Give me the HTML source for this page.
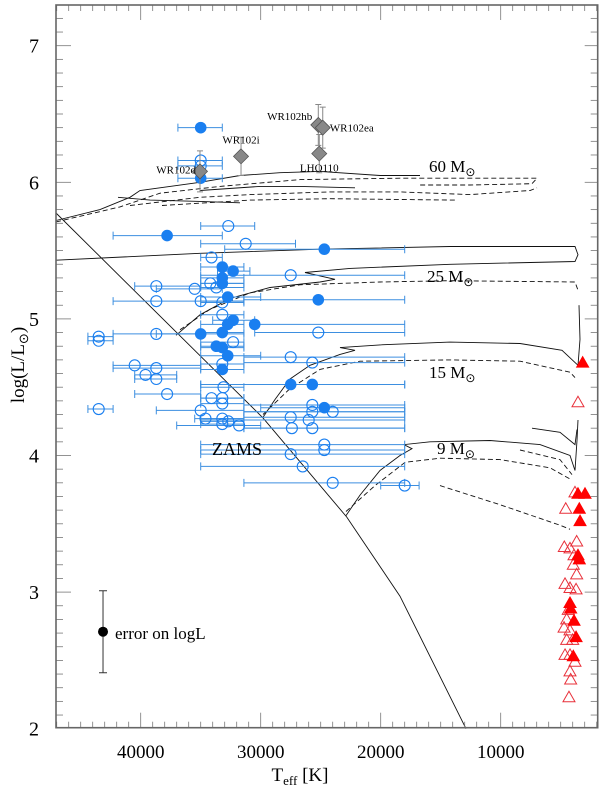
<!DOCTYPE html>
<html><head><meta charset="utf-8"><style>
html,body{margin:0;padding:0;background:#fff;}
body{position:relative;width:600px;height:788px;}
svg{display:block;font-family:"Liberation Serif",serif;}
text{font-family:"Liberation Serif",serif;}
</style></head><body>
<svg id="chart" width="600" height="788" viewBox="0 0 600 788" xmlns="http://www.w3.org/2000/svg">
<rect x="0" y="0" width="600" height="788" fill="#fff"/>
<g id="tracks"></g>
<g id="ticks"></g>
<g id="points"></g>
<rect x="56" y="5" width="541.7" height="722.7" fill="none" stroke="#666" stroke-width="1.6"/>
<g id="labels"></g>
</svg>
<script>
// ---- data ----
const xTicks=[40000,30000,20000,10000];
const yTicks=[2,3,4,5,6,7];
// filled blue: T, logL, hot-end, cool-end
const fT=[35000,35000,37800,24700,33200,32300,33200,33200,32750,25200,32300,32750,30500,35000,33200,33700,33200,32750,33200,27500,25700,24700];
const fL=[6.40,6.03,5.61,5.51,5.38,5.35,5.30,5.26,5.16,5.14,4.99,4.96,4.96,4.89,4.90,4.80,4.79,4.73,4.63,4.52,4.52,4.35];
const fHot=[36900,36900,42300,33000,35000,33600,35000,35000,35000,31400,34000,35000,30500,38700,35000,35000,35000,35000,35000,35000,35000,30000];
const fCool=[33200,33200,33200,18000,31400,30900,31400,31400,30000,18000,30500,31400,18000,31400,31400,31400,31400,30000,31400,18000,18000,18000];
// open blue
const oT=[35000,35000,32700,31250,34100,27500,38700,35500,34200,33700,38700,35000,33200,33200,38700,43500,43500,25200,32300,27500,25700,33200,40500,38700,39600,38700,37800,33100,34100,33200,33200,43500,35000,25700,25700,24000,27500,26000,34600,33200,33200,32700,31800,27400,25700,24700,24700,27500,26500,24000,18000];
const oL=[6.16,6.12,5.68,5.55,5.45,5.32,5.24,5.22,5.26,5.23,5.13,5.13,5.12,5.03,4.89,4.87,4.84,4.90,4.83,4.72,4.68,4.67,4.66,4.64,4.59,4.56,4.45,4.50,4.42,4.42,4.38,4.34,4.33,4.37,4.32,4.32,4.28,4.26,4.27,4.27,4.23,4.25,4.22,4.20,4.20,4.08,4.04,4.01,3.92,3.80,3.78];
const oHot=[36900,36900,35000,35000,35000,35000,40500,38700,35000,35000,42300,35000,35000,35000,42300,44400,44400,30500,35000,31400,31400,35000,42300,42300,40500,40500,40500,35000,35000,35000,35000,44400,38700,31400,31400,31400,31400,35000,35500,35000,35000,35000,37000,31400,31400,35000,35000,35000,35000,31400,20000];
const oCool=[33200,33200,30500,27100,33200,18000,35000,33200,31400,31400,31400,31400,31400,31400,35000,42300,42300,18000,31400,18000,18000,31400,35000,35000,37000,37000,35000,31400,31400,31400,31400,42300,31400,18000,18000,18000,18000,18000,31400,31400,31400,31400,30000,18000,18000,18000,18000,18000,18000,18000,16800];
// red triangles
const rfT=[3170,3560,2975,3450,3390,3560,3450,4225,4170,3890,3720,3950];
const rfL=[4.68,3.72,3.72,3.61,3.52,3.27,3.24,2.92,2.88,2.79,2.67,2.53];
const roT=[3560,3810,4580,3670,4700,4225,3890,3950,3670,4640,4225,3720,4370,4500,4720,4225,4500,4000,4640,4225,3810,4225,4170,4310];
const roL=[4.39,3.73,3.61,3.37,3.33,3.32,3.27,3.20,3.13,3.06,3.03,3.02,2.87,2.80,2.74,2.72,2.65,2.65,2.54,2.54,2.49,2.42,2.36,2.23];
// WR / LHO diamonds
const dNames=["WR102d","WR102i","WR102hb","WR102ea","LHO110"];
const dT=[35060,31640,25200,24830,25120];
const dL=[6.08,6.19,6.42,6.40,6.21];
const dErr=[0.15,0.14,0.15,0.15,0.14];
// tracks [T, logL]
const zams=[[47060,5.775],[37000,4.90],[29810,4.275],[22830,3.55],[18390,2.97],[12890,2.00]];
const t60s=[[47060,5.72],[43390,5.80],[40890,5.89],[40060,5.94],[35060,6.00],[31725,6.05],[28390,6.07],[25060,6.08],[20060,6.05],[16725,6.05]];
const t60s2=[[41890,5.89],[39220,5.87],[35060,5.86],[31725,5.85]];
const t60s3=[[35060,5.94],[30060,5.97],[26725,5.97],[22140,5.96]];
const t60d1=[[47060,5.71],[41725,5.82],[38390,5.92],[33390,5.97],[26725,6.02],[18390,6.03],[11725,6.03],[6975,6.03],[7390,5.99],[12560,5.98],[16725,5.98]];
const t60d2=[[40890,5.83],[35060,5.89],[30890,5.91],[24225,5.93],[18390,5.93],[12560,5.91],[7560,5.94],[6975,5.96]];
const t60d3=[[38225,5.83],[30890,5.87],[24225,5.88],[13810,5.87]];
const t25s=[[37060,4.88],[35060,5.03],[32560,5.15],[29225,5.23],[25060,5.27],[23810,5.29],[26310,5.34],[22560,5.37],[14225,5.40],[3810,5.42],[3560,5.47],[3810,5.53],[14225,5.53],[25060,5.51],[35060,5.48],[47060,5.43]];
const t25d=[[36725,4.92],[34225,5.07],[30890,5.19],[26725,5.25],[20060,5.27],[14225,5.28],[3810,5.27],[3560,5.21]];
const t15s=[[29810,4.28],[28810,4.41],[27560,4.56],[25890,4.66],[23390,4.74],[22140,4.77],[23390,4.79],[20060,4.81],[14225,4.83],[8390,4.82],[4890,4.77],[3560,4.66],[3390,4.85],[3475,5.10]];
const t15d=[[29810,4.30],[27560,4.49],[25060,4.63],[21725,4.69],[14225,4.70],[8390,4.69],[4225,4.61],[3810,4.57]];
const t9s=[[22890,3.56],[21725,3.71],[20060,3.89],[18390,4.00],[17390,4.05],[18060,4.08],[15890,4.10],[10890,4.11],[6725,4.08],[4225,4.00],[3810,3.89],[3640,4.11],[3560,4.26]];
const t12s=[[7390,4.20],[5060,4.17],[3810,4.08],[3640,4.19]];
const t9d1=[[22890,3.59],[20475,3.78],[17970,3.95],[15060,3.98],[10060,3.97],[5890,3.91],[4060,3.82]];
const t9d2=[[15060,3.78],[10060,3.64],[5060,3.49],[4225,3.46]];
const t12d=[[8390,4.04],[5060,3.97],[4060,3.86]];
const errT=43140, errL=2.71, errDL=0.30;

// ---- scales ----
const NS="http://www.w3.org/2000/svg";
const FONT='"Liberation Serif", serif';
function X(T){return 140.7+(40000-T)*0.012;}
function Y(L){return 182.3+(6-L)*136.6;}
function mk(tag,attrs,parent){const e=document.createElementNS(NS,tag);for(const k in attrs)e.setAttribute(k,attrs[k]);parent.appendChild(e);return e;}
const gT=document.getElementById('tracks'),gK=document.getElementById('ticks'),gP=document.getElementById('points'),gL=document.getElementById('labels');

// ticks
for(let T=2000;T<=47000;T+=1000){
  const x=X(T), maj=T%10000===0, len=maj?15:6;
  let t=mk('line',{x1:x,x2:x,y1:727.7,y2:727.7-len,stroke:'#777','stroke-width':0.8},gK);
  
  
  let t2=mk('line',{x1:x,x2:x,y1:5,y2:5+len,stroke:'#777','stroke-width':0.8},gK);
  
  
}
for(let i=20;i<=73;i++){
  const L=i/10, y=Y(L), maj=i%10===0, len=maj?15:7;
  if(y>727.7||y<5)continue;
  let t=mk('line',{x1:56,x2:56+len,y1:y,y2:y,stroke:'#777','stroke-width':0.8},gK);
  
  
  let t2=mk('line',{x1:597.7,x2:597.7-(maj?13:7),y1:y,y2:y,stroke:'#777','stroke-width':0.8},gK);
  
  
}
xTicks.forEach(T=>{
  let t=mk('text',{x:X(T),y:758,'text-anchor':'middle','font-size':19,'font-family':FONT},gL);
  t.textContent=T;
  
  
});
yTicks.forEach(L=>{
  let t=mk('text',{x:39,y:Y(L)+7,'text-anchor':'end','font-size':20,'font-family':FONT},gL);
  t.textContent=L;
  
  
});

// tracks
function path(pts,dash,name){
  const d=pts.map((p,i)=>(i?'L':'M')+X(p[0]).toFixed(1)+' '+Y(p[1]).toFixed(1)).join(' ');
  const e=mk('path',{d:d,fill:'none',stroke:'#111','stroke-width':0.9},gT);
  if(dash)e.setAttribute('stroke-dasharray','5,3');
  
  
}
path(zams,false,'zams-line');
path(t60s,false,'track-60-solid');path(t60s2,false,'track-60-solid');path(t60s3,false,'track-60-solid');
path(t60d1,true,'track-60-dashed');path(t60d2,true,'track-60-dashed');path(t60d3,true,'track-60-dashed');
path(t25s,false,'track-25-solid');path(t25d,true,'track-25-dashed');
path(t15s,false,'track-15-solid');path(t15d,true,'track-15-dashed');
path(t9s,false,'track-9-solid');path(t12s,false,'track-12-solid');
path(t9d1,true,'track-9-dashed');path(t9d2,true,'track-9-dashed');path(t12d,true,'track-12-dashed');

// blue error bars + points
const BLUE='#1a7ff0', BAR='#3d8fe0';
function hbar(T,L,hot,cool){
  const y=Y(L),x1=X(hot),x2=X(cool);
  const e=mk('path',{d:`M${x1} ${y}H${x2}M${x1} ${y-4}V${y+4}M${x2} ${y-4}V${y+4}`,stroke:BAR,'stroke-width':1,fill:'none'},gP);
  
  
}
for(let i=0;i<oT.length;i++)hbar(oT[i],oL[i],oHot[i],oCool[i]);
for(let i=0;i<fT.length;i++)hbar(fT[i],fL[i],fHot[i],fCool[i]);
for(let i=0;i<oT.length;i++){
  const c=mk('circle',{cx:X(oT[i]),cy:Y(oL[i]),r:5.5,fill:'none',stroke:BLUE,'stroke-width':1.1},gP);
  
  
}
for(let i=0;i<fT.length;i++){
  const c=mk('circle',{cx:X(fT[i]),cy:Y(fL[i]),r:5.8,fill:BLUE},gP);
  
  
}
// red triangles
function tri(T,L,filled){
  const x=X(T),y=Y(L),s=6;
  const e=mk('polygon',{points:`${x},${y-s} ${x-s},${y+s*0.75} ${x+s},${y+s*0.75}`,fill:filled?'#f00':'none',stroke:filled?'#f00':'#e8303a','stroke-width':1},gP);
  
  
}
for(let i=0;i<roT.length;i++)tri(roT[i],roL[i],false);
for(let i=0;i<rfT.length;i++)tri(rfT[i],rfL[i],true);
// diamonds
const dLab=[[-4,2,'end'],[0,-13,'middle'],[-6,-5,'end'],[7,4,'start'],[0,18,'middle']];
for(let i=0;i<dT.length;i++){
  const x=X(dT[i]),y1=Y(dL[i]+dErr[i]),y2=Y(dL[i]-dErr[i]);
  const b=mk('path',{d:`M${x} ${y1}V${y2}M${x-3} ${y1}H${x+3}M${x-3} ${y2}H${x+3}`,stroke:'#888','stroke-width':1,fill:'none'},gP);
  
  
}
for(let i=0;i<dT.length;i++){
  const x=X(dT[i]),y=Y(dL[i]),s=7.5;
  const p=mk('polygon',{points:`${x},${y-s} ${x+s},${y} ${x},${y+s} ${x-s},${y}`,fill:'#888',stroke:'#555','stroke-width':0.8},gP);
  
  
  const o=dLab[i];
  const t=mk('text',{x:x+o[0],y:y+o[1],'text-anchor':o[2],'font-size':11,'font-family':FONT},gL);
  t.textContent=dNames[i];
  
  
}
// error legend
{
  const x=X(errT),y=Y(errL),y1=Y(errL+errDL),y2=Y(errL-errDL);
  const b=mk('path',{d:`M${x} ${y1}V${y2}M${x-4} ${y1}H${x+4}M${x-4} ${y2}H${x+4}`,stroke:'#333','stroke-width':1,fill:'none'},gL);
  
  
  const c=mk('circle',{cx:x,cy:y,r:5,fill:'#000'},gL);
  
  
}
</script>
<svg style="position:absolute;left:0;top:0" width="600" height="788">
<g style='font-family:"Liberation Serif",serif' fill="#000">
<text x="115" y="639" font-size="17">error on logL</text>
<text x="429" y="172" font-size="17">60 M<tspan font-size="12" dy="4">⊙</tspan></text>
<text x="427" y="282" font-size="17">25 M<tspan font-size="12" dy="4">⊙</tspan></text>
<text x="429" y="378" font-size="17">15 M<tspan font-size="12" dy="4">⊙</tspan></text>
<text x="437" y="454" font-size="17">9 M<tspan font-size="12" dy="4">⊙</tspan></text>
<text x="212" y="455" font-size="18">ZAMS</text>
<text x="300" y="781" font-size="19" text-anchor="middle">T<tspan font-size="13" dy="4">eff</tspan><tspan dy="-4">  [K]</tspan></text>
<text transform="translate(24,365) rotate(-90)" font-size="19" text-anchor="middle">log(L/L<tspan font-size="13" dy="4">⊙</tspan><tspan dy="-4">)</tspan></text>
</g>
</svg>
</body></html>
